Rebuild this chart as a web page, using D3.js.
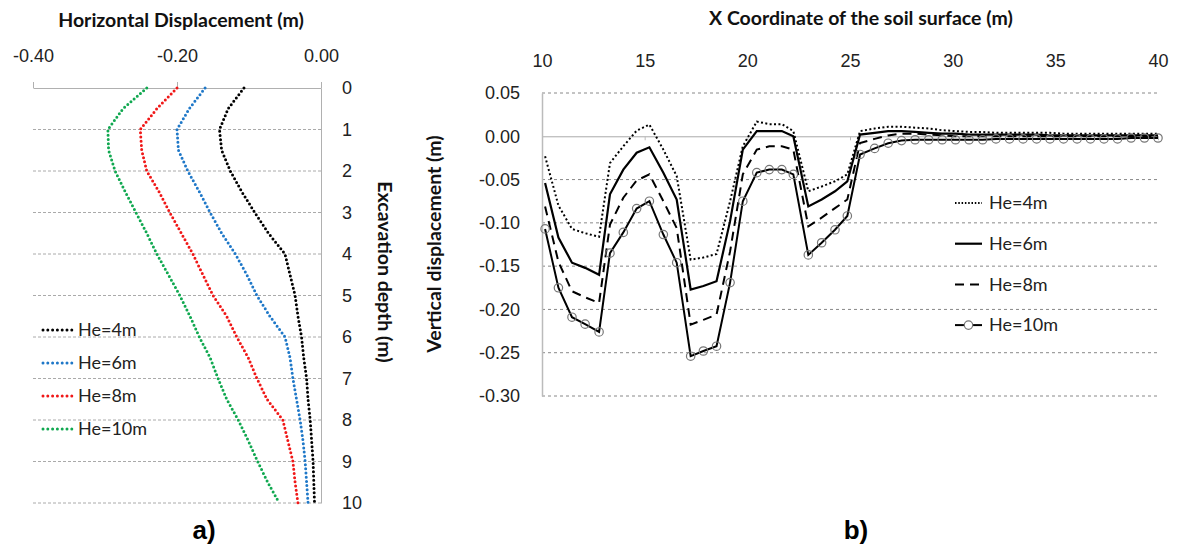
<!DOCTYPE html>
<html>
<head>
<meta charset="utf-8">
<script src="https://cdn.jsdelivr.net/npm/d3@7"></script>
<style>
  body { margin: 0; background: #fff; }
  svg { font-family: Lato, "Open Sans", sans-serif; }
  .tick text { fill: #222; font-size: 18px; }
  .title { font-weight: bold; font-size: 19.5px; fill: #111; }
  .legend { font-size: 18px; fill: #222; }
  .panel { font-family: "Liberation Sans", Arial, sans-serif; font-weight: bold; font-size: 26px; }
</style>
</head>
<body>
<svg id="chart" width="1180" height="548"></svg>
<script>
// ---------- panel a) horizontal displacement vs depth ----------
var depths = [0, 0.5, 1, 1.5, 2, 2.5, 3, 3.5, 4, 4.5, 5, 5.5, 6, 6.5, 7, 7.5, 8, 8.5, 9, 9.5, 10];
var horizHe4 = [-0.107, -0.129, -0.141, -0.138, -0.126, -0.110, -0.092, -0.073, -0.050, -0.043, -0.036, -0.032, -0.027, -0.024, -0.020, -0.018, -0.015, -0.013, -0.011, -0.010, -0.009];
var horizHe6 = [-0.161, -0.183, -0.200, -0.198, -0.185, -0.169, -0.154, -0.138, -0.119, -0.103, -0.089, -0.071, -0.050, -0.043, -0.039, -0.034, -0.029, -0.025, -0.022, -0.020, -0.018];
var horizHe8 = [-0.200, -0.228, -0.251, -0.249, -0.242, -0.225, -0.210, -0.194, -0.178, -0.164, -0.150, -0.131, -0.117, -0.101, -0.089, -0.075, -0.053, -0.046, -0.039, -0.036, -0.032];
var horizHe10 = [-0.242, -0.275, -0.296, -0.295, -0.286, -0.272, -0.257, -0.242, -0.228, -0.212, -0.196, -0.182, -0.169, -0.154, -0.143, -0.131, -0.115, -0.101, -0.088, -0.074, -0.058];
var horizTicks = [-0.4, -0.2, 0];
var depthTicks = [0, 1, 2, 3, 4, 5, 6, 7, 8, 9, 10];

// ---------- panel b) vertical displacement along surface ----------
var surfX = [10.15, 10.8, 11.46, 12.1, 12.78, 13.31, 13.96, 14.61, 15.23, 15.91, 16.56, 17.24, 17.86, 18.5, 19.16, 19.78,
  20.46, 21.07, 21.68, 22.24, 22.97, 23.62, 24.27, 24.87, 25.49, 26.2, 26.86, 27.51, 28.17, 28.83, 29.49, 30.14,
  30.8, 31.46, 32.11, 32.77, 33.43, 34.09, 34.74, 35.4, 36.06, 36.71, 37.37, 38.03, 38.69, 39.34, 40.0];
var vertHe4 = [-0.023, -0.080, -0.107, -0.112, -0.116, -0.031, -0.0115, 0.0065, 0.0135, -0.0154, -0.046, -0.1425, -0.140, -0.136, -0.075, -0.0115,
  0.017, 0.014, 0.014, 0.006, -0.0635, -0.058, -0.052, -0.044, 0.006, 0.009, 0.011, 0.011, 0.010, 0.009, 0.007, 0.006,
  0.005, 0.005, 0.004, 0.004, 0.004, 0.004, 0.004, 0.003, 0.003, 0.003, 0.003, 0.003, 0.003, 0.003, 0.003];
var vertHe6 = [-0.054, -0.117, -0.146, -0.152, -0.160, -0.067, -0.0385, -0.019, -0.0127, -0.042, -0.073, -0.177, -0.173, -0.1675, -0.098, -0.0154,
  0.006, 0.006, 0.006, 0.0, -0.081, -0.073, -0.0635, -0.052, 0.002, 0.004, 0.006, 0.006, 0.005, 0.004, 0.003, 0.003,
  0.002, 0.002, 0.002, 0.002, 0.002, 0.002, 0.001, 0.001, 0.001, 0.001, 0.001, 0.001, 0.001, 0.001, 0.001];
var vertHe8 = [-0.081, -0.145, -0.179, -0.186, -0.1925, -0.102, -0.071, -0.051, -0.044, -0.075, -0.106, -0.2175, -0.212, -0.206, -0.133, -0.044,
  -0.0154, -0.0116, -0.0116, -0.0154, -0.104, -0.094, -0.083, -0.073, -0.0077, -0.003, 0.001, 0.003, 0.003, 0.002, 0.001, 0.0,
  0.0, 0.0, 0.0, 0.0, 0.0, 0.0, 0.0, 0.0, 0.0, 0.0, 0.0, 0.0, 0.0, 0.0, 0.0];
var vertHe10 = [-0.107, -0.175, -0.209, -0.217, -0.226, -0.135, -0.111, -0.0835, -0.075, -0.1135, -0.146, -0.254, -0.248, -0.2425, -0.169, -0.075,
  -0.042, -0.0385, -0.0385, -0.044, -0.137, -0.123, -0.108, -0.092, -0.021, -0.014, -0.008, -0.005, -0.004, -0.004, -0.004, -0.004,
  -0.004, -0.004, -0.003, -0.003, -0.003, -0.003, -0.003, -0.003, -0.003, -0.003, -0.003, -0.003, -0.002, -0.002, -0.002];
var surfTicks = [10, 15, 20, 25, 30, 35, 40];
var vertTicks = [0.05, 0, -0.05, -0.1, -0.15, -0.2, -0.25, -0.3];

var legendLabels = ["He=4m", "He=6m", "He=8m", "He=10m"];
var dotColors = ["#000000", "#1f78c8", "#f01818", "#10a850"];

var svg = d3.select("#chart");
var fmt2 = d => d.toFixed(2);

// ================= panel a =================
var xL = d3.scaleLinear().domain([-0.4, 0]).range([33, 321]);
var yL = d3.scaleLinear().domain([0, 10]).range([88, 503]);

var gA = svg.append("g");

// dashed grid lines
gA.selectAll("line.grid")
  .data(depthTicks.filter(d => d > 0))
  .enter().append("line")
  .attr("x1", xL(-0.4)).attr("x2", xL(0))
  .attr("y1", d => yL(d)).attr("y2", d => yL(d))
  .attr("stroke", "#aaa").attr("stroke-width", 1).attr("stroke-dasharray", "3,2");

// top axis
var topAxisL = gA.append("g")
  .attr("transform", `translate(0, ${yL(0)})`)
  .call(d3.axisTop(xL).tickValues(horizTicks).tickFormat(fmt2).tickSize(6).tickSizeOuter(0).tickPadding(20));
topAxisL.select(".domain").attr("stroke", "#b0b0b0");
topAxisL.selectAll(".tick line").attr("stroke", "#b0b0b0");

// right depth axis
var rightAxisL = gA.append("g")
  .attr("transform", `translate(${xL(0)}, 0)`)
  .call(d3.axisRight(yL).tickValues(depthTicks).tickSize(0).tickPadding(21));
rightAxisL.select(".domain").attr("stroke", "#b0b0b0");

// curves
var seriesL = [horizHe4, horizHe6, horizHe8, horizHe10];
var lineL = d3.line().x(d => xL(d[0])).y(d => yL(d[1]));
seriesL.forEach(function(vals, i) {
  var pts = depths.map((dep, j) => [vals[j], dep]);
  gA.append("path")
    .datum(pts)
    .attr("d", lineL)
    .attr("fill", "none")
    .attr("stroke", dotColors[i])
    .attr("stroke-width", 3)
    .attr("stroke-linecap", "round")
    .attr("stroke-dasharray", "0,4.2");
});

// legend a
legendLabels.forEach(function(lbl, i) {
  var ly = 330 + i * 33;
  gA.append("line")
    .attr("x1", 43).attr("x2", 72).attr("y1", ly).attr("y2", ly)
    .attr("stroke", dotColors[i]).attr("stroke-width", 3)
    .attr("stroke-linecap", "round").attr("stroke-dasharray", "0,4.8");
  gA.append("text").attr("class", "legend")
    .attr("x", 78).attr("y", ly).attr("dy", "0.35em").text(lbl);
});

gA.append("text").attr("class", "title")
  .attr("x", 181).attr("y", 27).attr("text-anchor", "middle")
  .text("Horizontal Displacement (m)");
gA.append("text").attr("class", "title")
  .attr("transform", "translate(378, 272) rotate(90)")
  .attr("text-anchor", "middle")
  .text("Excavation depth (m)");

svg.append("text").attr("class", "panel")
  .attr("x", 204).attr("y", 539).attr("text-anchor", "middle").text("a)");

// ================= panel b =================
var xR = d3.scaleLinear().domain([10, 40]).range([542, 1158]);
var yR = d3.scaleLinear().domain([-0.3, 0.05]).range([396, 93]);

var gB = svg.append("g");

gB.selectAll("line.grid")
  .data(vertTicks.filter(d => d !== 0))
  .enter().append("line")
  .attr("x1", xR(10)).attr("x2", xR(40))
  .attr("y1", d => yR(d)).attr("y2", d => yR(d))
  .attr("stroke", "#888").attr("stroke-width", 1).attr("stroke-dasharray", "3,3");

// tick labels on top
var topAxisR = gB.append("g")
  .attr("transform", "translate(0, 70)")
  .call(d3.axisTop(xR).tickValues(surfTicks).tickSize(0).tickPadding(3));
topAxisR.select(".domain").remove();

// zero line with small ticks
var zeroAxis = gB.append("g")
  .attr("transform", `translate(0, ${yR(0)})`)
  .call(d3.axisBottom(xR).tickValues(surfTicks).tickSize(4).tickSizeOuter(0).tickFormat(""));
zeroAxis.select(".domain").attr("stroke", "#aaa");
zeroAxis.selectAll(".tick line").attr("stroke", "#bbb");

var leftAxisR = gB.append("g")
  .attr("transform", `translate(${xR(10)}, 0)`)
  .call(d3.axisLeft(yR).tickValues(vertTicks).tickFormat(fmt2).tickSize(0).tickPadding(22));
leftAxisR.select(".domain").attr("stroke", "#bbb").attr("stroke-width", 1.5);

var lineR = d3.line().x(d => xR(d[0])).y(d => yR(d[1]));
var styles = [
  { dash: "2,2.4", width: 2 },
  { dash: null, width: 2.2 },
  { dash: "9,6", width: 2 },
  { dash: null, width: 2 }
];
var seriesR = [vertHe4, vertHe6, vertHe8, vertHe10];
seriesR.forEach(function(vals, i) {
  var pts = surfX.map((x, j) => [x, vals[j]]);
  gB.append("path")
    .datum(pts)
    .attr("d", lineR)
    .attr("fill", "none")
    .attr("stroke", "#000")
    .attr("stroke-width", styles[i].width)
    .attr("stroke-dasharray", styles[i].dash);
  if (i === 3) {
    gB.selectAll("circle.m10")
      .data(pts)
      .enter().append("circle")
      .attr("class", "m10")
      .attr("cx", d => xR(d[0])).attr("cy", d => yR(d[1]))
      .attr("r", 4.2)
      .attr("fill", "none").attr("stroke", "#777").attr("stroke-width", 1.2);
  }
});

// legend b
legendLabels.forEach(function(lbl, i) {
  var ly = 203 + i * 40.7;
  gB.append("line")
    .attr("x1", 955).attr("x2", 982).attr("y1", ly).attr("y2", ly)
    .attr("stroke", "#000").attr("stroke-width", styles[i].width)
    .attr("stroke-dasharray", i === 0 ? "1.5,1.8" : (i === 2 ? "9,6" : null));
  if (i === 3) {
    gB.append("circle").attr("cx", 968.5).attr("cy", ly).attr("r", 4.2)
      .attr("fill", "#fff").attr("stroke", "#777").attr("stroke-width", 1.2);
  }
  gB.append("text").attr("class", "legend")
    .attr("x", 989).attr("y", ly).attr("dy", "0.35em").text(lbl);
});

gB.append("text").attr("class", "title")
  .attr("x", 861).attr("y", 25).attr("text-anchor", "middle")
  .text("X Coordinate of the soil surface (m)");
gB.append("text").attr("class", "title")
  .attr("transform", "translate(441, 244) rotate(-90)")
  .attr("text-anchor", "middle")
  .text("Vertical displacement (m)");

svg.append("text").attr("class", "panel")
  .attr("x", 856).attr("y", 539).attr("text-anchor", "middle").text("b)");
</script>
</body>
</html>
